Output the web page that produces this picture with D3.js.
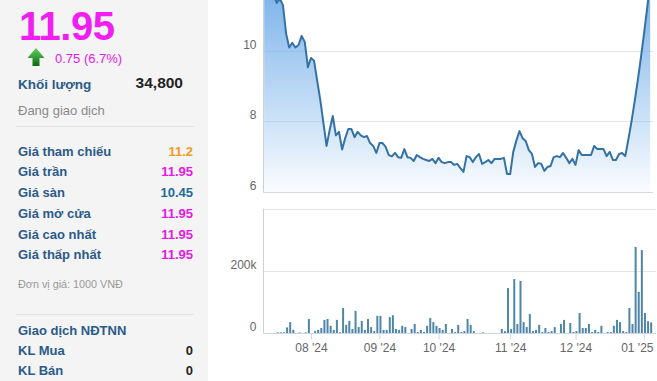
<!DOCTYPE html>
<html>
<head>
<meta charset="utf-8">
<script src="https://cdn.jsdelivr.net/npm/d3@7"></script>
<style>
  body { margin: 0; background: #fff; }
  svg { display: block; font-family: "Liberation Sans", Arial, sans-serif; }
</style>
</head>
<body>
<svg width="657" height="381"></svg>
<script>
// closing price per trading day (thousand VND), Jul 2024 -> Jan 2025
var prices = [11.6, 11.7, 11.55, 11.6, 11.37, 11.5, 11.3, 10.5, 10.1, 10.23,
  10.1, 10.17, 10.43, 10.26, 9.54, 9.8, 9.72, 9.15, 8.6, 7.95,
  7.3, 7.75, 8.15, 7.6, 7.7, 7.2, 7.52, 7.78, 7.78, 7.55,
  7.7, 7.6, 7.55, 7.58, 7.38, 7.3, 7.1, 7.38, 7.38, 7.27,
  7.04, 7.0, 7.1, 6.98, 6.96, 7.21, 6.98, 6.96, 6.87, 7.04,
  6.98, 6.93, 6.9, 6.87, 6.93, 6.81, 6.96, 6.84, 6.81, 6.84,
  6.84, 6.76, 6.79, 6.67, 6.56, 7.01, 6.98, 6.84, 6.98, 7.07,
  6.79, 6.84, 6.9, 6.81, 6.93, 6.93, 6.93, 6.96, 6.5, 6.5,
  7.13, 7.45, 7.72, 7.52, 7.44, 7.18, 7.07, 6.7, 6.81, 6.79,
  6.59, 6.7, 6.73, 6.98, 7.01, 6.98, 7.1, 6.96, 6.81, 6.93,
  6.76, 7.18, 7.04, 7.04, 7.04, 7.04, 7.3, 7.21, 7.21, 7.21,
  7.01, 7.13, 6.9, 6.9, 7.07, 7.1, 7.01, 7.49, 8.0, 8.56,
  9.16, 9.8, 10.48, 11.2, 11.95];

// traded volume per day (shares)
var volumes = [0, 0, 0, 0, 3000, 3000, 3000, 19000, 36000, 11000,
  0, 3000, 0, 3000, 46000, 0, 7000, 11000, 17000, 43000,
  46000, 24000, 11000, 43000, 3000, 81000, 27000, 40000, 14000, 72000,
  20000, 40000, 11000, 46000, 20000, 7000, 56000, 56000, 11000, 11000,
  52000, 58000, 14000, 11000, 24000, 20000, 0, 14000, 30000, 4000,
  11000, 4000, 24000, 49000, 36000, 24000, 17000, 11000, 30000, 0,
  14000, 4000, 27000, 4000, 7000, 46000, 27000, 7000, 0, 0,
  3000, 0, 0, 0, 0, 0, 14000, 7000, 145000, 14000,
  174000, 30000, 168000, 36000, 20000, 62000, 7000, 11000, 27000, 4000,
  17000, 4000, 7000, 20000, 0, 30000, 43000, 0, 33000, 4000,
  7000, 65000, 17000, 17000, 30000, 4000, 11000, 4000, 24000, 0,
  4000, 4000, 24000, 43000, 36000, 7000, 4000, 81000, 30000, 277000,
  133000, 267000, 65000, 39000, 35000];

// index of first trading day of each month
var monthIdx = [15, 37, 56, 79, 100, 122];
var monthLabels = ["08 '24", "09 '24", "10 '24", "11 '24", "12 '24", "01 '25"];
var priceTicks = [6, 8, 10];
var volTicks = [0, 200000];

var infoRows = [
  ["Giá tham chiếu", "11.2", "#f39a1e"],
  ["Giá trần", "11.95", "#e619e6"],
  ["Giá sàn", "10.45", "#1d6b9a"],
  ["Giá mở cửa", "11.95", "#e619e6"],
  ["Giá cao nhất", "11.95", "#e619e6"],
  ["Giá thấp nhất", "11.95", "#e619e6"]
];
var foreignRows = [["KL Mua", "0"], ["KL Bán", "0"]];

var svg = d3.select('svg');
var labelBlue = '#2b5a8a';
var font = '"Liberation Sans", Arial, sans-serif';

/** left info panel **/
var side = svg.append('g');
side.append('rect').attr('width', 208).attr('height', 381).attr('fill', '#f4f4f4');

side.append('text').attr('x', 19).attr('y', 40)
  .attr('fill', '#f01ef0').attr('font-size', 40).attr('font-weight', 'bold')
  .attr('letter-spacing', -0.5).text('11.95');

var defs = svg.append('defs');
var ag = defs.append('linearGradient').attr('id', 'arrowGrad')
  .attr('x1', 0).attr('y1', 0).attr('x2', 0).attr('y2', 1);
ag.append('stop').attr('offset', 0).attr('stop-color', '#5fd35f');
ag.append('stop').attr('offset', 1).attr('stop-color', '#0b6b12');
side.append('path')
  .attr('d', 'M36,48 L44.5,58 L39.5,58 L39.5,66 L32.5,66 L32.5,58 L27.5,58 Z')
  .attr('fill', 'url(#arrowGrad)');

side.append('text').attr('x', 55).attr('y', 63)
  .attr('fill', '#e619e6').attr('font-size', 13).text('0.75 (6.7%)');

side.append('text').attr('x', 18).attr('y', 89)
  .attr('fill', labelBlue).attr('font-size', 13.5).attr('font-weight', 'bold').text('Khối lượng');
side.append('text').attr('x', 183).attr('y', 88).attr('text-anchor', 'end')
  .attr('fill', '#222').attr('font-size', 15.5).attr('font-weight', 'bold').text('34,800');
side.append('text').attr('x', 18).attr('y', 115)
  .attr('fill', '#8a8a8a').attr('font-size', 13).text('Đang giao dịch');
side.append('line').attr('x1', 16).attr('x2', 194).attr('y1', 126.5).attr('y2', 126.5)
  .attr('stroke', '#e3e3e3');

infoRows.forEach(function(r, i) {
  var y = 155.7 + i * 20.7;
  side.append('text').attr('x', 18).attr('y', y)
    .attr('fill', labelBlue).attr('font-size', 13).attr('font-weight', 'bold').text(r[0]);
  side.append('text').attr('x', 193).attr('y', y).attr('text-anchor', 'end')
    .attr('fill', r[2]).attr('font-size', 13).attr('font-weight', 'bold').text(r[1]);
});

side.append('text').attr('x', 18).attr('y', 287.5)
  .attr('fill', '#999').attr('font-size', 10.8).text('Đơn vị giá: 1000 VNĐ');
side.append('line').attr('x1', 16).attr('x2', 194).attr('y1', 314.5).attr('y2', 314.5)
  .attr('stroke', '#e3e3e3');
side.append('text').attr('x', 18).attr('y', 335)
  .attr('fill', labelBlue).attr('font-size', 13).attr('font-weight', 'bold').text('Giao dịch NĐTNN');
foreignRows.forEach(function(r, i) {
  var y = 355 + i * 19.5;
  side.append('text').attr('x', 18).attr('y', y)
    .attr('fill', labelBlue).attr('font-size', 13).attr('font-weight', 'bold').text(r[0]);
  side.append('text').attr('x', 193).attr('y', y).attr('text-anchor', 'end')
    .attr('fill', '#222').attr('font-size', 13).attr('font-weight', 'bold').text(r[1]);
});

/** chart scales **/
var left = 263.5, right = 653;
var x = d3.scaleLinear().domain([0, prices.length - 1]).range([264.3, 264.3 + (prices.length - 1) * 3.112]);
var yP = d3.scaleLinear().domain([6, 10]).range([191.6, 51]);
var yV = d3.scaleLinear().domain([0, 400000]).range([333.3, 208.6]);

/** price panel **/
var pg = svg.append('g');
var grad = defs.append('linearGradient').attr('id', 'areaGrad')
  .attr('gradientUnits', 'userSpaceOnUse')
  .attr('x1', 0).attr('y1', -10).attr('x2', 0).attr('y2', 192);
grad.append('stop').attr('offset', 0).attr('stop-color', '#7cb3ea');
grad.append('stop').attr('offset', 1).attr('stop-color', '#7cb3ea').attr('stop-opacity', 0.04);

pg.selectAll('line.grid').data([8, 10]).enter().append('line')
  .attr('class', 'grid')
  .attr('x1', left).attr('x2', right)
  .attr('y1', function(d) { return Math.round(yP(d)) + 0.5; })
  .attr('y2', function(d) { return Math.round(yP(d)) + 0.5; })
  .attr('stroke', '#e4e4e4');

var area = d3.area()
  .x(function(d, i) { return x(i); })
  .y0(yP(6) + 0.5)
  .y1(function(d) { return yP(d); });
pg.append('path').datum(prices).attr('d', area).attr('fill', 'url(#areaGrad)');
// fill the gap from axis to first point
pg.append('rect').attr('x', left).attr('width', x(0) - left)
  .attr('y', yP(prices[0])).attr('height', yP(6) - yP(prices[0]))
  .attr('fill', 'url(#areaGrad)');

var line = d3.line()
  .x(function(d, i) { return x(i); })
  .y(function(d) { return yP(d); });
pg.append('path').datum(prices).attr('d', line)
  .attr('fill', 'none').attr('stroke', '#3472a6').attr('stroke-width', 2)
  .attr('stroke-linejoin', 'round');

pg.append('line').attr('x1', left).attr('x2', right).attr('y1', 192.5).attr('y2', 192.5)
  .attr('stroke', '#d9d9d9');
pg.append('line').attr('x1', left).attr('x2', left).attr('y1', -20).attr('y2', 192.5)
  .attr('stroke', '#d0d0d0');

var pAxis = pg.append('g').attr('transform', 'translate(' + left + ',0)')
  .call(d3.axisLeft(yP).tickValues(priceTicks).tickSize(0).tickPadding(7).tickFormat(d3.format('d')));
pAxis.select('.domain').remove();
pAxis.selectAll('text').attr('dy', null).attr('y', -2.5)
  .attr('fill', '#666').attr('font-size', 12).attr('font-family', font);

/** volume panel **/
var vg = svg.append('g');
vg.selectAll('line.vgrid').data([200000, 400000]).enter().append('line')
  .attr('class', 'vgrid')
  .attr('x1', left).attr('x2', 656)
  .attr('y1', function(d) { return Math.round(yV(d)) + 0.5; })
  .attr('y2', function(d) { return Math.round(yV(d)) + 0.5; })
  .attr('stroke', '#e4e4e4');

vg.selectAll('rect.bar').data(volumes).enter().append('rect')
  .attr('class', 'bar')
  .attr('x', function(d, i) { return x(i); })
  .attr('width', 2)
  .attr('y', function(d) { return yV(d); })
  .attr('height', function(d) { return yV(0) - yV(d); })
  .attr('fill', '#4f86a8');

vg.append('line').attr('x1', left).attr('x2', left).attr('y1', 208.6).attr('y2', 333.5)
  .attr('stroke', '#d0d0d0');

var vAxis = vg.append('g').attr('transform', 'translate(' + left + ',0)')
  .call(d3.axisLeft(yV).tickValues(volTicks).tickSize(0).tickPadding(7)
    .tickFormat(function(d) { return d === 0 ? '0' : (d / 1000) + 'k'; }));
vAxis.select('.domain').remove();
vAxis.selectAll('text').attr('dy', null).attr('y', -2.5)
  .attr('fill', '#666').attr('font-size', 12).attr('font-family', font);

var xAxis = vg.append('g').attr('transform', 'translate(0,' + 333.5 + ')')
  .call(d3.axisBottom(x).tickValues(monthIdx).tickSize(6).tickPadding(4)
    .tickFormat(function(d, i) { return monthLabels[i]; }));
xAxis.select('.domain').attr('d', 'M' + left + ',0H656').attr('stroke', '#ccd6eb');
xAxis.selectAll('line').attr('stroke', '#ccd6eb');
xAxis.selectAll('text').attr('fill', '#666').attr('font-size', 12).attr('font-family', font);
// keep the last month label inside the chart edge
xAxis.selectAll('.tick').filter(function(d, i) { return i === monthIdx.length - 1; })
  .select('text').attr('text-anchor', 'end').attr('x', 653 - x(monthIdx[monthIdx.length - 1]));
</script>
</body>
</html>
